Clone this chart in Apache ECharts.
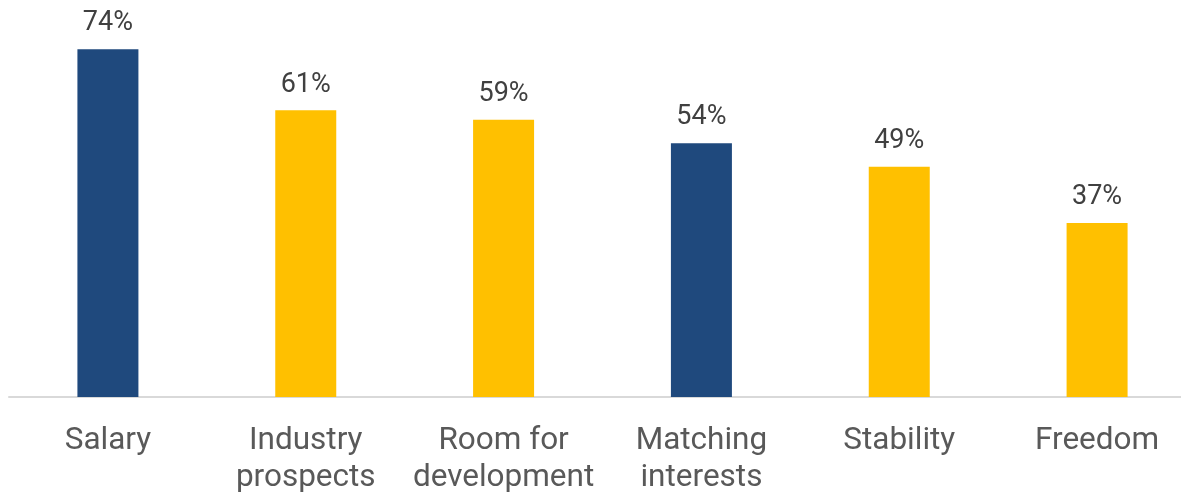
<!DOCTYPE html>
<html>
<head>
<meta charset="utf-8">
<script src="https://cdn.jsdelivr.net/npm/echarts@6/dist/echarts.min.js"></script>
<style>html,body{margin:0;padding:0;background:#fff}#c{width:1181px;height:494px}</style>
</head>
<body>
<div id="c"></div>
<script>
const categories = ['Salary', 'Industry\nprospects', 'Room for\ndevelopment', 'Matching\ninterests', 'Stability', 'Freedom'];
const values = [74, 61, 59, 54, 49, 37];
const highlight = [true, false, false, true, false, false];
const NAVY = '#1F497D', GOLD = '#FFC000';

const chart = echarts.init(document.getElementById('c'), null, {renderer: 'canvas'});
chart.setOption({
  animation: false,
  grid: {left: 9, width: 1187, top: 21, bottom: 97, containLabel: false, outerBoundsMode: 'none'},
  xAxis: {
    type: 'category',
    data: categories,
    axisLine: {lineStyle: {color: '#D9D9D9', width: 2}},
    axisTick: {show: false},
    axisLabel: {color: '#595959', fontFamily: 'Roboto', fontSize: 31.5, lineHeight: 37, margin: 26, interval: 0}
  },
  yAxis: {type: 'value', min: 0, max: 80, show: false, splitLine: {show: false}},
  series: [{
    type: 'bar',
    barWidth: 61,
    data: values.map((v, i) => ({value: v, itemStyle: {color: highlight[i] ? NAVY : GOLD}})),
    label: {show: true, position: 'top', distance: 12, color: '#404040', fontFamily: 'Roboto', fontSize: 27, formatter: p => p.value + '%'}
  }]
});
</script>
</body>
</html>
